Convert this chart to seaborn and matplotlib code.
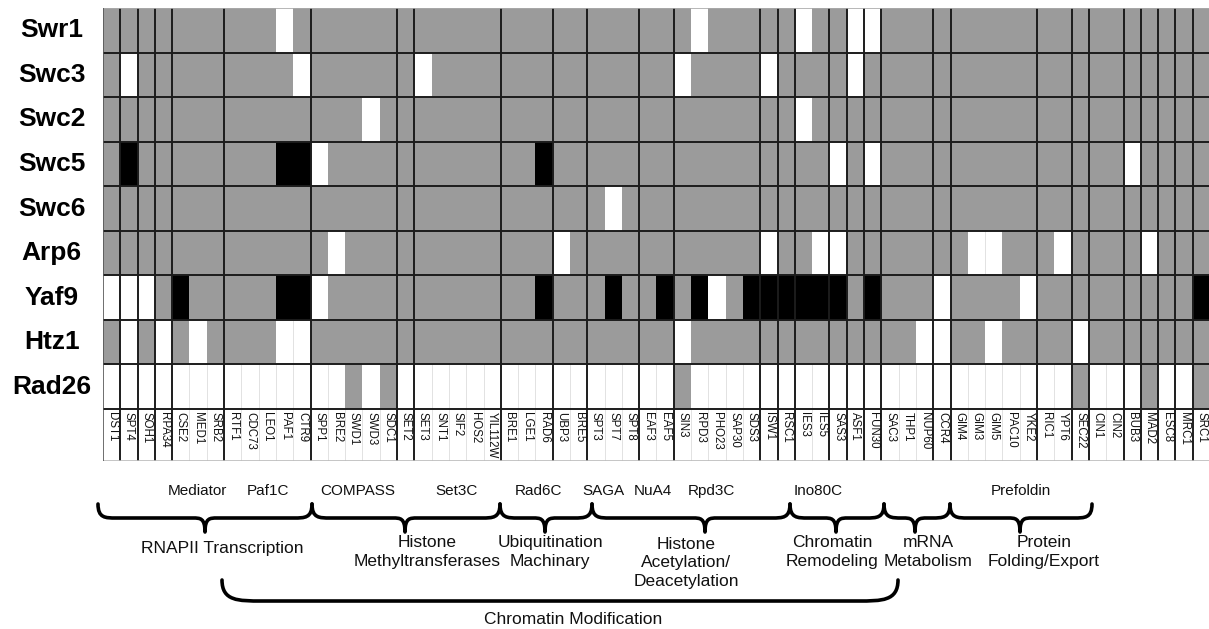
import numpy as np
import pandas as pd
import seaborn as sns
import matplotlib.pyplot as plt
from matplotlib.colors import ListedColormap
from matplotlib.path import Path
from matplotlib.patches import PathPatch

plt.rcParams['font.family'] = ['Liberation Sans', 'DejaVu Sans']

## Data
proteins = ["Swr1", "Swc3", "Swc2", "Swc5", "Swc6", "Arp6", "Yaf9", "Htz1", "Rad26"]
genes = ["DST1", "SPT4", "SOH1", "RPA34", "CSE2", "MED1", "SRB2", "RTF1",
         "CDC73", "LEO1", "PAF1", "CTR9", "SPP1", "BRE2", "SWD1", "SWD3",
         "SDC1", "SET2", "SET3", "SNT1", "SIF2", "HOS2", "YIL112W", "BRE1",
         "LGE1", "RAD6", "UBP3", "BRE5", "SPT3", "SPT7", "SPT8", "EAF3",
         "EAF5", "SIN3", "RPD3", "PHO23", "SAP30", "SDS3", "ISW1", "RSC1",
         "IES3", "IES5", "SAS3", "ASF1", "FUN30", "SAC3", "THP1", "NUP60",
         "CCR4", "GIM4", "GIM3", "GIM5", "PAC10", "YKE2", "RIC1", "YPT6",
         "SEC22", "CIN1", "CIN2", "BUB3", "MAD2", "ESC8", "MRC1", "SRC1"]

# w = white, g = grey, b = black  (blocks of 8 genes)
swr1  = "gggggggg ggwggggg gggggggg gggggggg ggwggggg wggwwggg gggggggg gggggggg"
swc3  = "gwgggggg gggwgggg ggwggggg gggggggg gwggggwg gggwgggg gggggggg gggggggg"
swc2  = "gggggggg gggggggw gggggggg gggggggg gggggggg wggggggg gggggggg gggggggg"
swc5  = "gbgggggg ggbbwggg gggggggg gbgggggg gggggggg ggwgwggg gggggggg gggwgggg"
swc6  = "gggggggg gggggggg gggggggg gggggwgg gggggggg gggggggg gggggggg gggggggg"
arp6  = "gggggggg gggggwgg gggggggg ggwggggg ggggggwg gwwggggg ggwwgggw ggggwggg"
yaf9  = "wwwgbggg ggbbwggg gggggggg gbgggbgg bgbwgbbb bbbgbggg wggggwgg gggggggb"
htz1  = "gwgwgwgg ggwwgggg gggggggg gggggggg gwgggggg gggggggw wggwgggg wggggggg"
rad26 = "wwwwwwww wwwwwwgw gwwwwwww wwwwwwww wgwwwwww wwwwwwww wwwwwwww gwwwgwwg"

# thick separators between gene groups (column boundaries)
group_breaks = [1, 2, 3, 4, 7, 12, 17, 18, 23, 26, 28, 31, 33, 38, 39, 40,
                42, 43, 44, 45, 48, 49, 54, 56, 57, 59, 60, 61, 62, 63]

complexes = ["Mediator", "Paf1C", "COMPASS", "Set3C", "Rad6C", "SAGA",
             "NuA4", "Rpd3C", "Ino80C", "Prefoldin"]
complex_x = [197, 268, 358, 457, 538, 603, 653, 711, 818, 1021]

processes = ["RNAPII Transcription", "Histone\nMethyltransferases",
             "Ubiquitination\nMachinary", "Histone\nAcetylation/\nDeacetylation",
             "Chromatin\nRemodeling", "mRNA\nMetabolism", "Protein\nFolding/Export"]
process_x = [222, 427, 550, 686, 832, 928, 1044]
process_y = [549, 552, 552, 563, 552, 552, 552]
brace_spans = [(98, 312, 205), (312, 500, 405), (500, 592, 545), (592, 790, 705),
               (790, 884, 836), (884, 950, 915), (950, 1092, 1020)]

## Build dataframe
code = {"w": 0, "g": 1, "b": 2}
rows = [swr1, swc3, swc2, swc5, swc6, arp6, yaf9, htz1, rad26]
grid = np.array([[code[c] for c in r.replace(" ", "")] for r in rows])
df = pd.DataFrame(grid, index=proteins, columns=genes)

## Figure in pixel units
W, H = 1209, 629
fig = plt.figure(figsize=(W / 100, H / 100), dpi=100)

def frac(x0, y0, x1, y1):
    return [x0 / W, 1 - y1 / H, (x1 - x0) / W, (y1 - y0) / H]

row_h = (409 - 8) / 9
lab_h = (461 - 409) / row_h

ax = fig.add_axes(frac(103, 8, 1210, 461))
cmap = ListedColormap(["white", "#9b9b9b", "black"])
sns.heatmap(df, ax=ax, cmap=cmap, vmin=-0.5, vmax=2.5, cbar=False,
            xticklabels=False, yticklabels=True, linewidths=0)
ax.set_ylim(9 + lab_h, 0)
ax.set_xlim(0, 64)

# row labels
ax.tick_params(axis='y', length=0, pad=37)
for lbl in ax.get_yticklabels():
    lbl.set_rotation(0)
    lbl.set_ha('center')
    lbl.set_fontsize(19)
    lbl.set_fontweight('bold')

# gene labels
for j, g in enumerate(genes):
    ax.text(j + 0.5, 9.07, g, rotation=-90, ha='center', va='top', fontsize=8.3,
            family=['Liberation Sans Narrow', 'Liberation Sans'], color='#111')

## grid lines
n_rows, n_cols = grid.shape
for j in range(1, n_cols):
    if j in group_breaks:
        continue
    for i in range(n_rows):
        if grid[i, j - 1] == 0 and grid[i, j] == 0:
            ax.plot([j, j], [i, i + 1], color='#e2e2e2', lw=0.7)
    ax.plot([j, j], [9, 9 + lab_h], color='#e2e2e2', lw=0.7)

for j in group_breaks:
    ax.plot([j, j], [0, 9 + lab_h], color='#1c1c1c', lw=1.4)
for i in range(1, 10):
    ax.plot([0, 64], [i, i], color='#1c1c1c', lw=1.4)
ax.plot([0, 64], [0, 0], color='#aaaaaa', lw=1.2)
ax.plot([0, 64], [9 + lab_h, 9 + lab_h], color='#bbbbbb', lw=1.2)
ax.plot([0, 0], [0, 9 + lab_h], color='#555555', lw=1.2)

## annotation layer
ax2 = fig.add_axes([0, 0, 1, 1])
ax2.set_xlim(0, W)
ax2.set_ylim(H, 0)
ax2.axis('off')
ax2.patch.set_alpha(0)

def brace(x0, x1, ytop, ybot, tip=None, curl=18, tipcurl=12):
    ymid = ybot if tip is None else (ytop + ybot) / 2
    verts = [(x0, ytop), (x0, ymid), (x0 + curl * 0.4, ymid), (x0 + curl, ymid)]
    codes = [Path.MOVETO, Path.CURVE4, Path.CURVE4, Path.CURVE4]
    if tip is not None:
        verts += [(tip - tipcurl, ymid),
                  (tip - tipcurl * 0.4, ymid), (tip, ymid), (tip, ybot),
                  (tip, ymid), (tip + tipcurl * 0.4, ymid), (tip + tipcurl, ymid)]
        codes += [Path.LINETO] + [Path.CURVE4] * 6
    verts += [(x1 - curl, ymid), (x1 - curl * 0.4, ymid), (x1, ymid), (x1, ytop)]
    codes += [Path.LINETO, Path.CURVE4, Path.CURVE4, Path.CURVE4]
    ax2.add_patch(PathPatch(Path(verts, codes), fill=False, lw=2.6,
                            color='black', capstyle='round', joinstyle='round'))

for name, x in zip(complexes, complex_x):
    ax2.text(x, 491, name, ha='center', va='center', fontsize=11, color='#111')

for x0, x1, t in brace_spans:
    brace(x0, x1, 504, 532, tip=t)

for name, x, y in zip(processes, process_x, process_y):
    ax2.text(x, y, name, ha='center', va='center', multialignment='center',
             fontsize=12.5, linespacing=1.3, color='#111')

brace(222, 898, 580, 601, curl=40)
ax2.text(573, 620, "Chromatin Modification", ha='center', va='center',
         fontsize=12.5, color='#111')

plt.savefig("out.png", dpi=100)
